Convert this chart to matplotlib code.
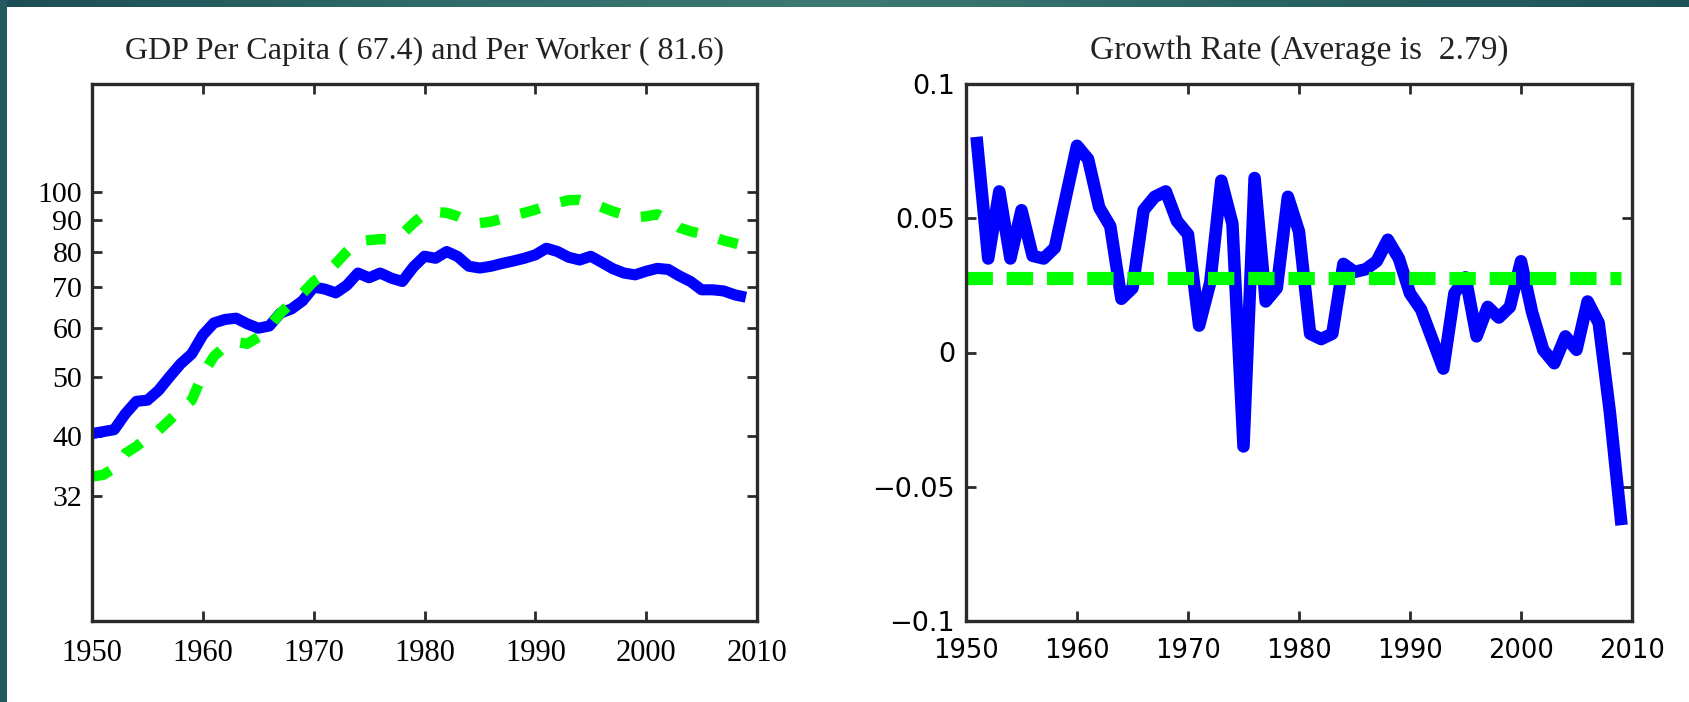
import numpy as np
import matplotlib
matplotlib.use("Agg")
import matplotlib.pyplot as plt
from matplotlib.patches import Rectangle
from matplotlib.colors import LinearSegmentedColormap

# ---------------- data ----------------
years = list(range(1950, 2010))
per_capita = [40.4, 40.7, 41.0, 43.5, 45.6, 45.8, 47.5, 50.0, 52.5, 54.5,
              58.5, 61.2, 62.0, 62.3, 61.0, 60.0, 60.5, 63.5, 64.5, 66.5,
              70.0, 69.5, 68.5, 70.5, 73.8, 72.5, 73.8, 72.4, 71.5, 75.5,
              78.6, 78.0, 80.0, 78.5, 75.7, 75.2, 75.7, 76.5, 77.2, 78.0,
              79.0, 81.0, 80.0, 78.3, 77.5, 78.6, 76.8, 75.0, 73.8, 73.3,
              74.3, 75.1, 74.8, 73.0, 71.5, 69.3, 69.3, 69.0, 68.0, 67.4]
per_worker = [34.4, 34.6, 35.5, 37.5, 38.5, 39.8, 40.9, 42.5, 44.2, 45.8,
              50.5, 54.0, 56.0, 57.0, 56.6, 58.0, 60.4, 63.5, 66.0, 68.4,
              71.5, 73.5, 76.5, 80.0, 83.1, 83.5, 83.8, 83.8, 85.5, 89.0,
              92.2, 92.8, 92.5, 91.3, 89.5, 89.0, 89.5, 90.5, 91.5, 92.5,
              93.6, 95.0, 96.0, 97.0, 97.1, 96.0, 94.5, 93.0, 91.8, 91.0,
              91.3, 92.0, 90.0, 87.5, 86.3, 85.5, 84.5, 83.4, 82.5, 81.6]

growth_years = list(range(1951, 2010))
growth = [0.078, 0.035, 0.060, 0.035, 0.053, 0.036, 0.035, 0.039, 0.058,
          0.077, 0.072, 0.054, 0.047, 0.020, 0.024, 0.053, 0.058, 0.060, 0.049,
          0.044, 0.010, 0.026, 0.064, 0.048, -0.035, 0.065, 0.019, 0.024, 0.058,
          0.045, 0.007, 0.005, 0.007, 0.033, 0.030, 0.031, 0.034, 0.042, 0.035,
          0.022, 0.016, 0.005, -0.006, 0.022, 0.028, 0.006, 0.017, 0.013, 0.017,
          0.034, 0.015, 0.001, -0.004, 0.006, 0.001, 0.019, 0.011, -0.022, -0.062]
avg_growth = 0.0279
avg_years = [1950, 2009]

left_title = "GDP Per Capita ( 67.4) and Per Worker ( 81.6)"
right_title = "Growth Rate (Average is  2.79)"
x_ticks = [1950, 1960, 1970, 1980, 1990, 2000, 2010]
x_ticklabels = ["1950", "1960", "1970", "1980", "1990", "2000", "2010"]
left_yticks = [32, 40, 50, 60, 70, 80, 90, 100]
left_yticklabels = ["32", "40", "50", "60", "70", "80", "90", "100"]
right_yticks = [-0.1, -0.05, 0, 0.05, 0.1]
right_yticklabels = ["\u22120.1", "\u22120.05", "0", "0.05", "0.1"]

# ---------------- figure ----------------
W, H = 1689, 702
fig = plt.figure(figsize=(W / 100, H / 100), dpi=100)
fig.patch.set_facecolor("white")

SERIF = ["Liberation Serif", "DejaVu Serif"]
SANS = ["DejaVu Sans"]
BLUE = "#0000ff"
GREEN = "#00ff00"
SPINE = "#2a2a2a"


def style_axes(ax):
    for s in ax.spines.values():
        s.set_linewidth(2.4)
        s.set_color(SPINE)
    ax.tick_params(which="major", direction="in", length=7, width=2,
                   color=SPINE, top=True, right=True)
    ax.tick_params(which="minor", left=False, right=False, top=False, bottom=False)


def px_rect(x0, y0, x1, y1):
    return [x0 / W, 1 - y1 / H, (x1 - x0) / W, (y1 - y0) / H]


# ---- left panel ----
axL = fig.add_axes(px_rect(92, 84, 757, 621))
axL.plot(years, per_capita, color=BLUE, lw=8, solid_joinstyle="round",
         solid_capstyle="butt")
axL.plot(years, per_worker, color=GREEN, lw=7.5, linestyle=(0, (1.9, 2.1)))
axL.set_yscale("log")
axL.set_xlim(1950, 2010)
axL.set_ylim(20, 150)
axL.set_yticks(left_yticks)
axL.set_yticklabels(left_yticklabels, fontfamily=SERIF, fontsize=21.5)
axL.set_xticks(x_ticks)
axL.set_xticklabels(x_ticklabels, fontfamily=SERIF, fontsize=22)
axL.yaxis.set_minor_locator(matplotlib.ticker.NullLocator())
style_axes(axL)
axL.tick_params(axis="y", pad=7)
axL.tick_params(axis="x", pad=13)
fig.text((92 + 757) / 2 / W, 1 - 51 / H, left_title, ha="center", va="center",
         fontfamily=SERIF, fontsize=23, color="#222222")

# ---- right panel ----
axR = fig.add_axes(px_rect(966, 84, 1632, 621))
axR.plot(growth_years, growth, color=BLUE, lw=9, solid_joinstyle="round")
axR.plot(avg_years, [avg_growth, avg_growth], color=GREEN, lw=9.5,
         linestyle=(0, (2.0, 1.05)))
axR.set_xlim(1950, 2010)
axR.set_ylim(-0.1, 0.1)
axR.set_yticks(right_yticks)
axR.set_yticklabels(right_yticklabels, fontfamily=SANS, fontsize=19.5)
axR.set_xticks(x_ticks)
axR.set_xticklabels(x_ticklabels, fontfamily=SANS, fontsize=18.5)
style_axes(axR)
axR.tick_params(axis="y", pad=8)
axR.tick_params(axis="x", pad=12)
fig.text((966 + 1632) / 2 / W, 1 - 51 / H, right_title, ha="center", va="center",
         fontfamily=SERIF, fontsize=24, color="#222222")

# ---- teal slide border (top and left) ----
band = fig.add_axes([0, 1 - 7 / H, 1, 7 / H])
grad = np.linspace(0, 1, 256)
cm = LinearSegmentedColormap.from_list(
    "teal", ["#1c4d55", "#2f6b68", "#3d7a72", "#2a6363", "#1e5359"])
band.imshow(grad[None, :], aspect="auto", cmap=cm, extent=[0, 1, 0, 1])
band.set_axis_off()
fig.patches.append(Rectangle((0, 0), 7 / W, 1, transform=fig.transFigure,
                             facecolor="#235a60", edgecolor="none", zorder=10))

fig.savefig("out.png", dpi=100)
